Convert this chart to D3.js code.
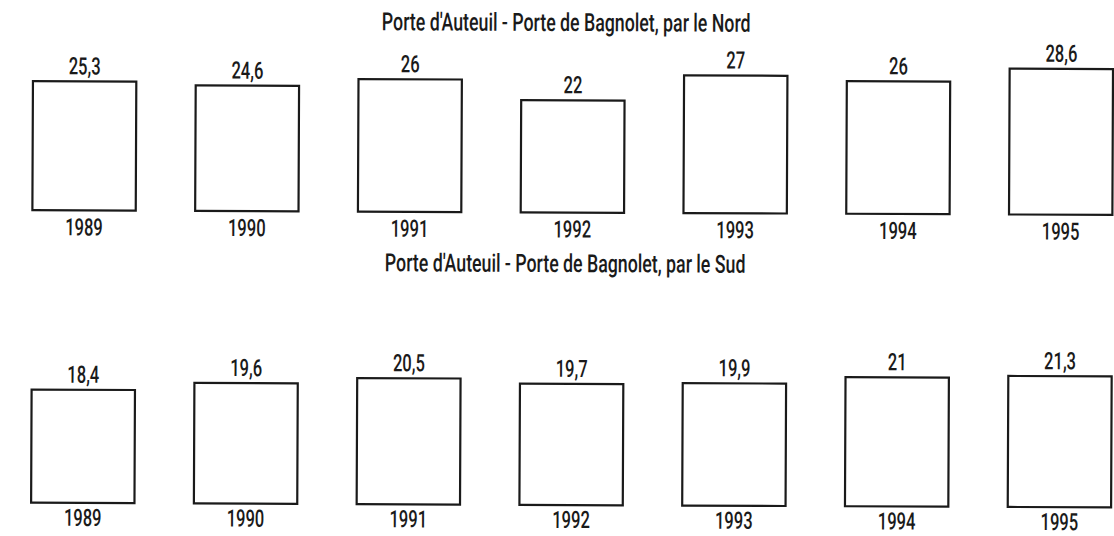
<!DOCTYPE html>
<html>
<head>
<meta charset="utf-8">
<script src="https://cdn.jsdelivr.net/npm/d3@7"></script>
<style>
  html, body { margin: 0; padding: 0; background: #fff; }
  svg { display: block; }
  text { font-family: Roboto, "DejaVu Sans", sans-serif; font-weight: 500; fill: #1a1a1a; }
</style>
</head>
<body>
<script>
// ---- data ----
const years = ["1989", "1990", "1991", "1992", "1993", "1994", "1995"];
const nordValues = [25.3, 24.6, 26, 22, 27, 26, 28.6];
const sudValues = [18.4, 19.6, 20.5, 19.7, 19.9, 21, 21.3];
const titles = [
  "Porte d'Auteuil - Porte de Bagnolet, par le Nord",
  "Porte d'Auteuil - Porte de Bagnolet, par le Sud"
];

// ---- layout ----
const W = 1114, H = 536;
const fmt = v => String(v).replace(".", ",");

const svg = d3.select("body").append("svg").attr("width", W).attr("height", H);
const root = svg.append("g").attr("transform", "rotate(0.25, 557, 300)");

const x = d3.scaleBand().domain(years).range([32, 1112]).paddingInner(0.365).paddingOuter(0);

const rows = [
  { title: titles[0], values: nordValues, titleY: 31, yearGap: 25,
    y: d3.scaleLinear().domain([0, 30]).range([212.5, 212.5 - 30 * 5.1]) },
  { title: titles[1], values: sudValues, titleY: 272, yearGap: 23,
    y: d3.scaleLinear().domain([0, 22]).range([505, 505 - 22 * 6.15]) }
];

function label(g, tx, ty, str, size, squeeze) {
  g.append("g").attr("transform", `translate(${tx},${ty})`)
    .append("text")
    .attr("transform", `scale(${squeeze},1)`)
    .attr("text-anchor", "middle")
    .attr("font-size", size)
    .text(str);
}

rows.forEach(row => {
  const g = root.append("g");
  label(g, 565, row.titleY, row.title, 25, 0.71);
  const data = years.map((yr, i) => ({ year: yr, value: row.values[i] }));
  const base = row.y(0);
  g.selectAll("rect.box").data(data).join("rect")
    .attr("class", "box")
    .attr("x", d => x(d.year))
    .attr("y", d => row.y(d.value))
    .attr("width", x.bandwidth())
    .attr("height", d => base - row.y(d.value))
    .attr("fill", "#fff")
    .attr("stroke", "#1a1a1a")
    .attr("stroke-width", 2.2);
  data.forEach(d => {
    const cx = x(d.year) + x.bandwidth() / 2;
    label(g, cx, row.y(d.value) - 7, fmt(d.value), 24, 0.69);
    label(g, cx, base + row.yearGap, d.year, 24, 0.69);
  });
});
</script>
</body>
</html>
